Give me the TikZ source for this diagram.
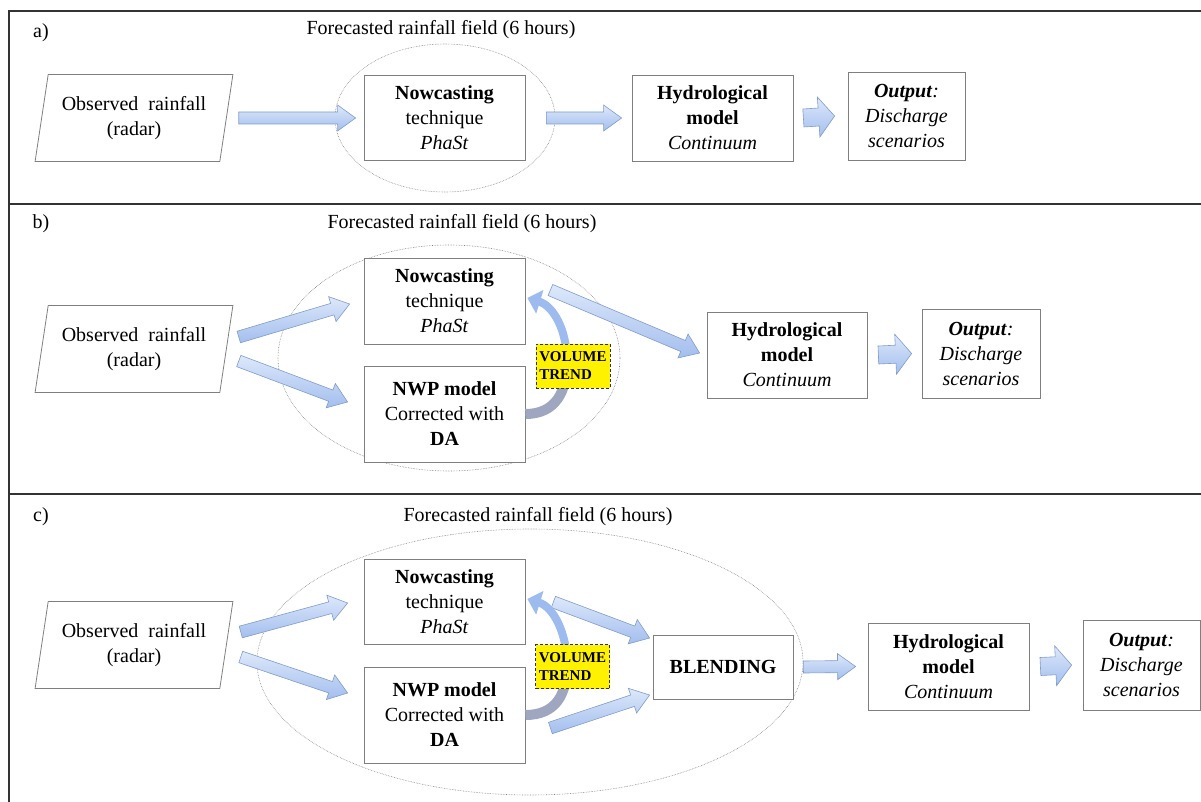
\documentclass[tikz,border=0pt]{standalone}
\usepackage{fontspec}
\setmainfont{Liberation Serif}
\usetikzlibrary{shapes.geometric,calc,arrows.meta}

\definecolor{arrowedge}{HTML}{7F9CCB}
\definecolor{arrowtop}{HTML}{DDE8FA}
\definecolor{arrowbot}{HTML}{A3BEEE}
\definecolor{trendblue}{HTML}{9DBBEE}
\definecolor{trendgrey}{HTML}{9EA7BF}
\definecolor{boxedge}{HTML}{7F7F7F}
\definecolor{frameline}{HTML}{333333}

\tikzset{
  txt/.style={font=\fontsize{20}{25}\selectfont},
  panellabel/.style={font=\fontsize{20}{25}\selectfont},
  procbox/.style={draw=boxedge, line width=0.8pt, fill=white, align=center, txt, inner sep=2pt},
  databox/.style={trapezium, trapezium left angle=77, trapezium right angle=103,
    trapezium stretches=true, draw=boxedge, line width=0.8pt, align=center, txt,
    minimum width=198pt, minimum height=87pt},
  fieldellipse/.style={ellipse, draw=gray, densely dotted, line width=0.6pt},
  trendbox/.style={draw=black!80, densely dashed, line width=0.6pt, fill=yellow, align=left,
    font=\fontsize{15}{18}\selectfont\bfseries, inner sep=1.5pt,
    minimum width=74pt, minimum height=44pt},
  arrowshape/.style={draw=arrowedge, line width=0.6pt, top color=arrowtop, bottom color=arrowbot},
  frame/.style={draw=frameline, line width=1.6pt},
}

% block arrow: start, end, shaft half width, head half width, head length
\newcommand{\flowarrow}[5]{%
  \path #1 coordinate (fa-s) #2 coordinate (fa-t);
  \coordinate (fa-h) at ($(fa-t)!#5!(fa-s)$);
  \draw[arrowshape] ($(fa-s)!#3!90:(fa-t)$) -- ($(fa-h)!#3!90:(fa-t)$)
    -- ($(fa-h)!#4!90:(fa-t)$) -- (fa-t) -- ($(fa-h)!#4!-90:(fa-t)$)
    -- ($(fa-h)!#3!-90:(fa-t)$) -- ($(fa-s)!#3!-90:(fa-t)$) -- cycle;
}
\newcommand{\thinarrow}[2]{\flowarrow{#1}{#2}{6pt}{13pt}{18pt}}
\newcommand{\fatarrow}[2]{\flowarrow{#1}{#2}{9pt}{20pt}{16pt}}

\begin{document}
\begin{tikzpicture}[x=1pt, y=-1pt]
\useasboundingbox (0,0) rectangle (1201,802);
% panel frames
\draw[frame] (1201,11) -- (9,11) -- (9,802);
\draw[frame] (9,204) -- (1201,204);
\draw[frame] (9,494) -- (1201,494);

% ---------- a) ----------
\node[panellabel] (lbla) at (41,33) {a)};
\node[txt] (titlea) at (441,30) {Forecasted rainfall field (6 hours)};
\node[fieldellipse, minimum width=220pt, minimum height=148pt] (ella) at (445,118) {};
\node[databox] (obsa) at (134,118) {Observed\hspace{5pt} rainfall\\(radar)};
\node[procbox, minimum width=161pt, minimum height=85pt] (nowa) at (444.5,118)
  {\textbf{Nowcasting}\\technique\\\textit{PhaSt}};
\node[procbox, minimum width=161pt, minimum height=86pt] (hydroa) at (712.5,118)
  {\textbf{Hydrological}\\\textbf{model}\\\textit{Continuum}};
\node[procbox, minimum width=117pt, minimum height=88pt] (outa) at (906.5,116)
  {\textbf{\textit{Output}}\textit{:}\\\textit{Discharge}\\\textit{scenarios}};
\thinarrow{($(obsa.east)+(12,0)$)}{($(nowa.west)+(-8,0)$)}
\thinarrow{($(nowa.east)+(21,0)$)}{($(hydroa.west)+(-10,0)$)}
\fatarrow{($(hydroa.east)+(10,0)$)}{($(outa.west)+(-13,0)$)}

% ---------- b) ----------
\node[panellabel] (lblb) at (41,224) {b)};
\node[txt] (titleb) at (462,224) {Forecasted rainfall field (6 hours)};
\node[fieldellipse, minimum width=342pt, minimum height=226pt] (ellb) at (449,358) {};
\node[databox] (obsb) at (134,349) {Observed\hspace{5pt} rainfall\\(radar)};
\node[procbox, minimum width=161pt, minimum height=86pt] (nowb) at (444.5,301)
  {\textbf{Nowcasting}\\technique\\\textit{PhaSt}};
\node[procbox, minimum width=161pt, minimum height=96pt] (nwpb) at (444.5,414)
  {\textbf{NWP model}\\Corrected with\\\textbf{DA}};
\node[procbox, minimum width=160pt, minimum height=86pt] (hydrob) at (787,355)
  {\textbf{Hydrological}\\\textbf{model}\\\textit{Continuum}};
\node[procbox, minimum width=118pt, minimum height=89pt] (outb) at (981,353.5)
  {\textbf{\textit{Output}}\textit{:}\\\textit{Discharge}\\\textit{scenarios}};
\thinarrow{($(obsb.east)+(12,-12)$)}{($(nowb.west)+(-14,3)$)}
\thinarrow{($(obsb.east)+(12,12)$)}{($(nwpb.west)+(-16,-12)$)}
\thinarrow{($(nowb.east)+(25,-11)$)}{($(hydrob.west)+(-7,-2)$)}
\fatarrow{($(hydrob.east)+(11,0)$)}{($(outb.west)+(-10,0)$)}
\coordinate (tmidb) at (567,362);
\draw[trendgrey, line width=10pt] (nwpb.east) .. controls +(30,0) and +(0,30) .. (tmidb);
\draw[trendblue, line width=8pt, -{Triangle[length=13pt,width=24pt]}]
  (tmidb) .. controls +(0,-32) and +(26,8) .. ($(nowb.east)+(2,-3)$);
\node[trendbox] (trendb) at (573,366) {VOLUME\\TREND};

% ---------- c) ----------
\node[panellabel] (lblc) at (41,517) {c)};
\node[txt] (titlec) at (538,517) {Forecasted rainfall field (6 hours)};
\node[fieldellipse, minimum width=546pt, minimum height=266pt] (ellc) at (530,662) {};
\node[databox] (obsc) at (134,645) {Observed\hspace{5pt} rainfall\\(radar)};
\node[procbox, minimum width=161pt, minimum height=85pt] (nowc) at (444.5,602)
  {\textbf{Nowcasting}\\technique\\\textit{PhaSt}};
\node[procbox, minimum width=161pt, minimum height=96pt] (nwpc) at (444.5,715)
  {\textbf{NWP model}\\Corrected with\\\textbf{DA}};
\node[procbox, minimum width=140pt, minimum height=64pt] (blend) at (723,667)
  {\textbf{BLENDING}};
\node[procbox, minimum width=161pt, minimum height=87pt] (hydroc) at (948.5,666.5)
  {\textbf{Hydrological}\\\textbf{model}\\\textit{Continuum}};
\node[procbox, minimum width=117pt, minimum height=90pt] (outc) at (1141.5,665)
  {\textbf{\textit{Output}}\textit{:}\\\textit{Discharge}\\\textit{scenarios}};
\thinarrow{($(obsc.east)+(14,-13)$)}{($(nowc.west)+(-16,1)$)}
\thinarrow{($(obsc.east)+(14,12)$)}{($(nwpc.west)+(-16,-22)$)}
\thinarrow{($(nowc.east)+(28,0)$)}{($(blend.west)+(-3,-29)$)}
\thinarrow{($(nwpc.east)+(25,13)$)}{($(blend.west)+(-3,28)$)}
\thinarrow{($(blend.east)+(10,0)$)}{($(hydroc.west)+(-12,0)$)}
\fatarrow{($(hydroc.east)+(11,0)$)}{($(outc.west)+(-11,0)$)}
\coordinate (tmidc) at (567,665);
\draw[trendgrey, line width=10pt] (nwpc.east) .. controls +(30,0) and +(0,30) .. (tmidc);
\draw[trendblue, line width=8pt, -{Triangle[length=13pt,width=24pt]}]
  (tmidc) .. controls +(0,-32) and +(26,8) .. ($(nowc.east)+(2,-3)$);
\node[trendbox] (trendc) at (572.5,666.5) {VOLUME\\TREND};
\end{tikzpicture}
\end{document}
